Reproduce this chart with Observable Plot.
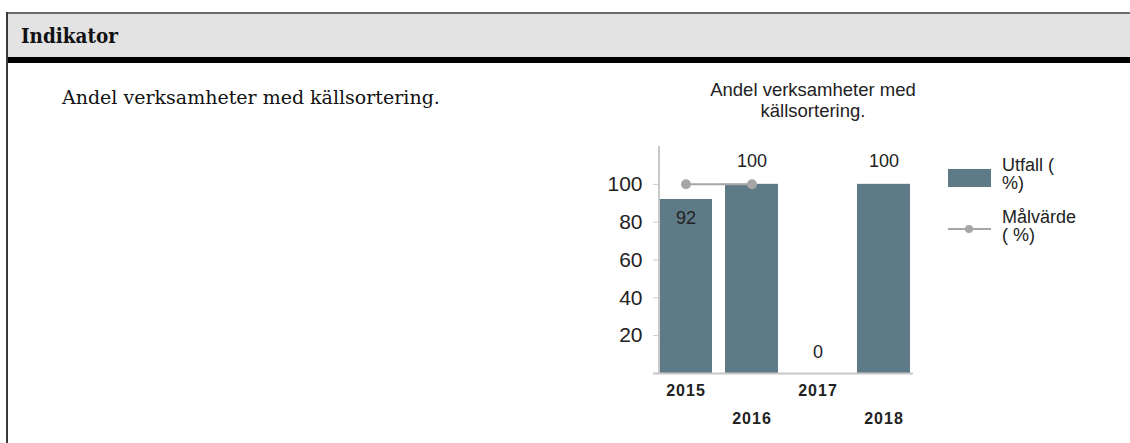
<!DOCTYPE html>
<html>
<head>
<meta charset="utf-8">
<script src="https://cdn.jsdelivr.net/npm/d3@7"></script>
<script src="https://cdn.jsdelivr.net/npm/@observablehq/plot@0.6"></script>
<style>
  html, body { margin: 0; padding: 0; background: #fff; width: 1130px; height: 443px; overflow: hidden; }
  body { position: relative; font-family: "Liberation Sans", Arial, sans-serif; }
  .abs { position: absolute; }
  #header { left: 6px; top: 12px; width: 1130px; height: 43px; background: #e3e3e3; border-top: 2px solid #6b6b6b; border-bottom: 6px solid #000; }
  #leftborder { left: 6px; top: 12px; width: 2px; height: 440px; background: #3a3a3a; }
  #htitle { left: 21px; top: 24px; font-family: "DejaVu Serif", serif; font-weight: bold; font-size: 20px; line-height: 24px; color: #111; transform: scaleX(0.92); transform-origin: left center; }
  #desc { left: 62px; top: 85px; font-family: "DejaVu Serif", serif; font-size: 19px; line-height: 24px; color: #111; }
  .ctitle { left: 663px; width: 300px; text-align: center; font-size: 18.5px; color: #222; }
  .leg { font-size: 18px; color: #222; line-height: 18px; }
  #chart { left: 590px; top: 130px; }
  #chart g[aria-label="x-axis tick label"] text { letter-spacing: 1px; }
</style>
</head>
<body>
<div id="header" class="abs"></div>
<div id="leftborder" class="abs"></div>
<div id="htitle" class="abs">Indikator</div>
<div id="desc" class="abs">Andel verksamheter med källsortering.</div>
<div class="abs ctitle" style="top:79px">Andel verksamheter med</div>
<div class="abs ctitle" style="top:100px">källsortering.</div>
<div id="chart" class="abs"></div>
<svg class="abs" style="left:940px;top:150px" width="60" height="100">
  <rect x="8" y="19" width="43" height="18" fill="#5f7a87"></rect>
  <line x1="8" x2="51" y1="79" y2="79" stroke="#a6a6a6" stroke-width="2"></line>
  <circle cx="29" cy="79" r="4" fill="#a6a6a6"></circle>
</svg>
<div class="abs leg" style="left:1002px;top:156px">Utfall (</div>
<div class="abs leg" style="left:1002px;top:174px">%)</div>
<div class="abs leg" style="left:1002px;top:208px">Målvärde</div>
<div class="abs leg" style="left:1002px;top:226px">( %)</div>
<script>
const years = ["2015", "2016", "2017", "2018"];
const utfall = [92, 100, 0, 100];
const malvarde = [100, 100, null, null];
const yTicks = [20, 40, 60, 80, 100];
const xTicksRow1 = ["2015", "2017"];
const xTicksRow2 = ["2016", "2018"];

const data = years.map((y, i) => ({year: y, utfall: utfall[i], malvarde: malvarde[i]}));
const targets = data.filter(d => d.malvarde != null);

const barColor = "#5f7a87";
const targetColor = "#a6a6a6";

const chart = Plot.plot({
  width: 340,
  height: 300,
  marginLeft: 68,
  marginRight: 17,
  marginTop: 16,
  marginBottom: 57,
  style: {fontFamily: "'Liberation Sans', Arial, sans-serif", color: "#222", background: "transparent", overflow: "visible"},
  x: {domain: years, range: [55, 334], paddingInner: 0.19, paddingOuter: 0.19},
  y: {domain: [0, 120]},
  marks: [
    Plot.barY(data.filter(d => d.utfall > 0), {x: "year", y: "utfall", fill: barColor}),
    Plot.ruleY([0], {stroke: "#c8c8c8", strokeWidth: 2, insetLeft: -5}),
    Plot.ruleX(["2015"], {y1: 0, y2: 120, dx: -27, stroke: "#c8c8c8", strokeWidth: 2}),
    Plot.axisY({ticks: yTicks, tickSize: 5, tickPadding: 11, stroke: "#c8c8c8", fill: "#222", fontSize: 21, label: null}),
    Plot.axisX({ticks: xTicksRow1, tickSize: 0, tickPadding: 11, fontSize: 16, fontWeight: "bold", fill: "#222", label: null}),
    Plot.axisX({ticks: xTicksRow2, tickSize: 0, tickPadding: 39, fontSize: 16, fontWeight: "bold", fill: "#222", label: null}),
    Plot.line(targets, {x: "year", y: "malvarde", stroke: targetColor, strokeWidth: 2}),
    Plot.dot(targets, {x: "year", y: "malvarde", r: 5, fill: targetColor}),
    Plot.text(data.filter(d => d.utfall > 0 && d.utfall < 100), {x: "year", y: "utfall", text: d => String(d.utfall), dy: 19, fontSize: 18, fill: "#222"}),
    Plot.text(data.filter(d => d.utfall >= 100), {x: "year", y: "utfall", text: d => String(d.utfall), dy: -23, fontSize: 18, fill: "#222"}),
    Plot.text(data.filter(d => d.utfall === 0), {x: "year", y: "utfall", text: d => String(d.utfall), dy: -21, fontSize: 18, fill: "#222"})
  ]
});
document.getElementById("chart").appendChild(chart);
</script>
</body>
</html>
